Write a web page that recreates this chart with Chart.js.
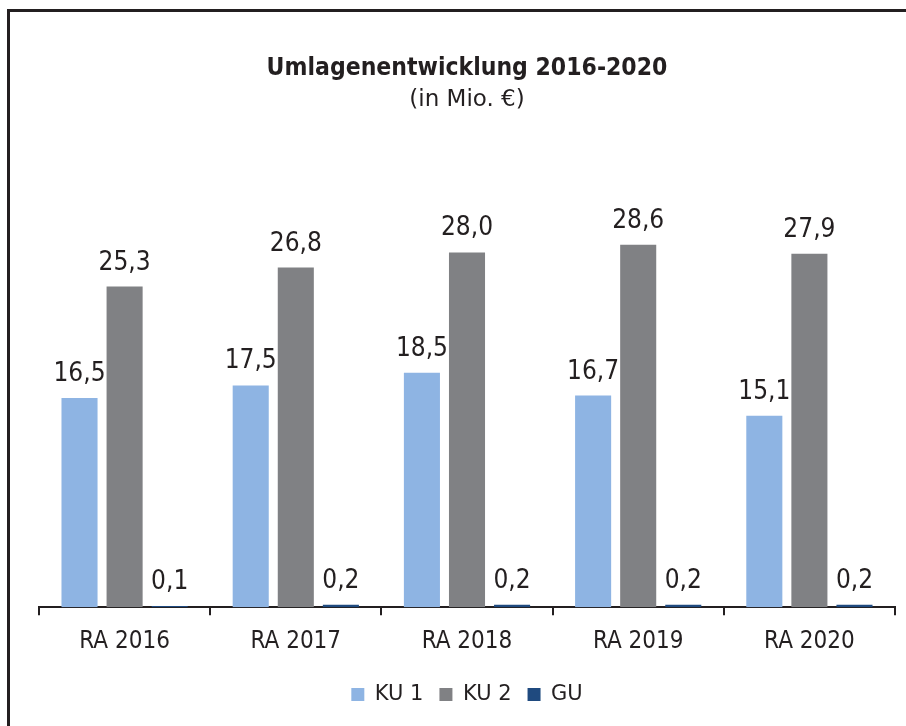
<!DOCTYPE html>
<html>
<head>
<meta charset="utf-8">
<script src="https://cdn.jsdelivr.net/npm/chart.js@4.4.1/dist/chart.umd.min.js"></script>
<style>
  html, body { margin: 0; padding: 0; background: #ffffff; }
  #wrap { position: relative; width: 906px; height: 726px; }
  #frame { position: absolute; left: 7px; top: 9px; width: 899px; height: 717px;
           border-top: 3px solid #231f20; border-left: 3px solid #231f20; box-sizing: border-box; }
  canvas { position: absolute; left: 0; top: 0; }
</style>
</head>
<body>
<div id="wrap">
  <div id="frame"></div>
  <canvas id="c" width="906" height="726"></canvas>
</div>
<script>
const categories = ["RA 2016", "RA 2017", "RA 2018", "RA 2019", "RA 2020"];
const ku1 = [16.5, 17.5, 18.5, 16.7, 15.1];
const ku2 = [25.3, 26.8, 28.0, 28.6, 27.9];
const gu  = [0.1, 0.2, 0.2, 0.2, 0.2];
const seriesNames = ["KU 1", "KU 2", "GU"];
const titleText = "Umlagenentwicklung 2016-2020";
const subtitleText = "(in Mio. €)";

const FONT = "'DejaVu Sans', sans-serif";
const FONT_C = "'DejaVu Sans Condensed', 'DejaVu Sans', sans-serif";
const TXT = "#231f20";

const valueLabels = {
  id: 'valueLabels',
  afterDatasetsDraw(chart) {
    const ctx = chart.ctx;
    ctx.save();
    ctx.font = "26px " + FONT_C;
    ctx.fillStyle = TXT;
    ctx.textAlign = 'center';
    ctx.textBaseline = 'alphabetic';
    chart.data.datasets.forEach((ds, i) => {
      const meta = chart.getDatasetMeta(i);
      meta.data.forEach((el, j) => {
        const v = ds.data[j];
        ctx.fillText(v.toFixed(1).replace('.', ','), el.x, el.y - 17);
      });
    });
    ctx.restore();
  }
};

new Chart(document.getElementById('c'), {
  type: 'bar',
  data: {
    labels: categories,
    datasets: [
      { label: seriesNames[0], data: ku1, backgroundColor: '#8eb4e3' },
      { label: seriesNames[1], data: ku2, backgroundColor: '#808184' },
      { label: seriesNames[2], data: gu,  backgroundColor: '#1f4a7f' }
    ]
  },
  options: {
    responsive: false,
    animation: false,
    devicePixelRatio: 1,
    categoryPercentage: 0.79,
    barPercentage: 0.8,
    layout: { padding: { left: 39, right: 11, top: 0, bottom: 11 } },
    scales: {
      x: {
        grid: { display: true, drawOnChartArea: false, drawTicks: true, tickLength: 8, color: TXT, lineWidth: 2, offset: true },
        border: { display: true, color: TXT, width: 2 },
        ticks: { color: TXT, font: { family: FONT_C, size: 24 }, padding: 12 }
      },
      y: {
        display: false,
        min: 0, max: 36
      }
    },
    plugins: {
      title: {
        display: true, text: titleText, color: TXT,
        font: { family: FONT_C, size: 24.5, weight: 'bold' },
        padding: { top: 54, bottom: 3 }
      },
      subtitle: {
        display: true, text: subtitleText, color: TXT,
        font: { family: FONT, size: 23 },
        padding: { top: 0, bottom: 37 }
      },
      legend: {
        position: 'bottom',
        labels: { color: TXT, font: { family: FONT, size: 21 }, boxWidth: 13, boxHeight: 13, padding: 16 }
      },
      tooltip: { enabled: false }
    }
  },
  plugins: [valueLabels]
});
</script>
</body>
</html>
